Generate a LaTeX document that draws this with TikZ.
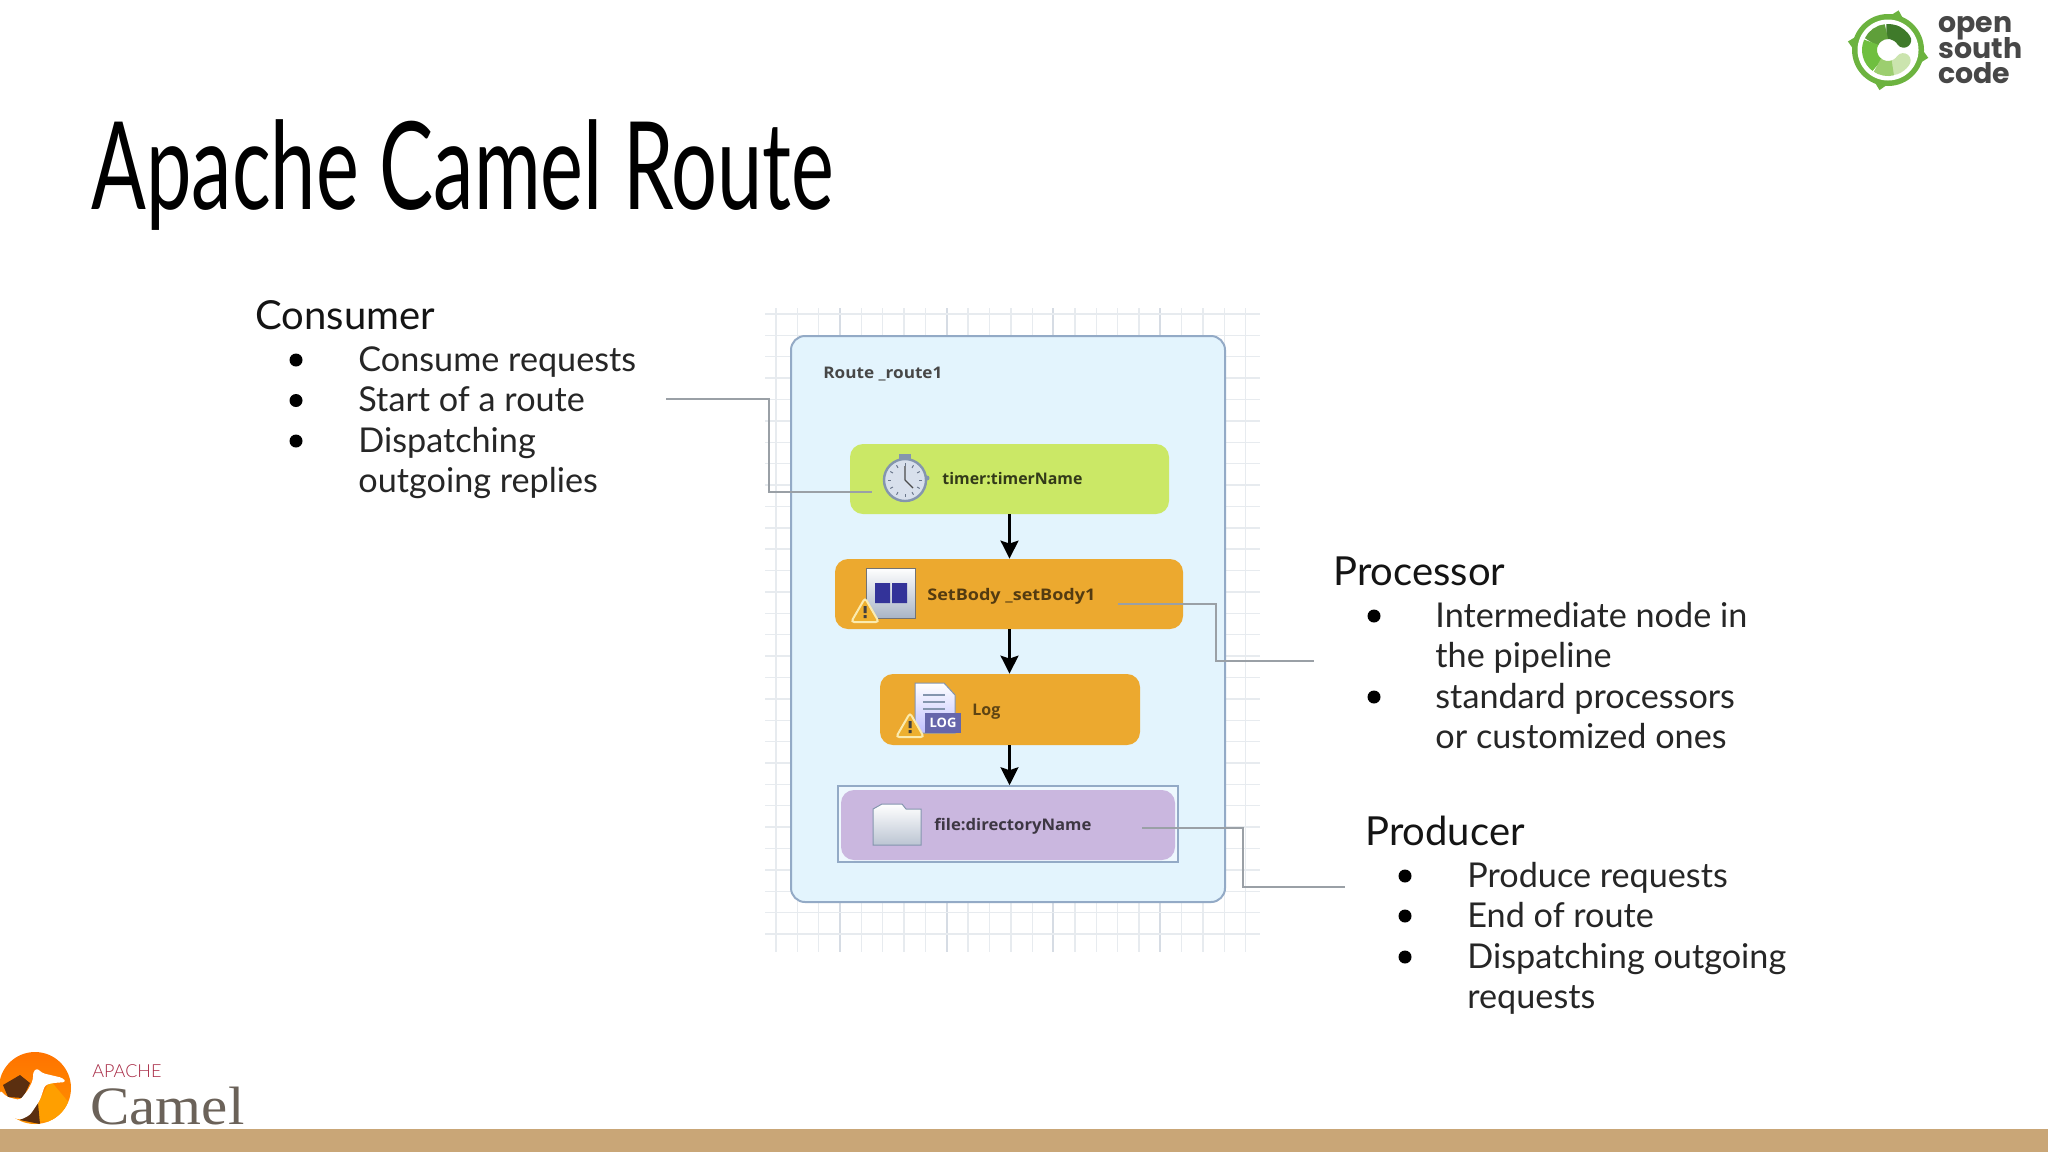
\documentclass[tikz,border=0pt]{standalone}
\usepackage{fontspec}
\usepackage{graphicx}
\setmainfont{Lato}
\newfontfamily\lbl{Open Sans}
\newfontfamily\logofont{Poppins}
\newfontfamily\camelfont{Liberation Serif}
\newfontfamily\titlefont{Lato}
\newfontfamily\apachefont{Lato Light}
\usetikzlibrary{arrows.meta,shapes.geometric}
\definecolor{barc}{HTML}{C9A677}
\definecolor{routefill}{HTML}{E3F4FD}
\definecolor{routeline}{HTML}{93AAC6}
\definecolor{timerc}{HTML}{CBE866}
\definecolor{orangec}{HTML}{ECA92F}
\definecolor{filec}{HTML}{CAB7DF}
\definecolor{leadc}{HTML}{9AA0A6}
\definecolor{gridc}{HTML}{E7EBEF}
\definecolor{gridm}{HTML}{D6DCE4}
\definecolor{iconline}{HTML}{8495AE}
\definecolor{clockface}{HTML}{D8E0EC}
\definecolor{wfill}{HTML}{EDB02F}
\definecolor{wline}{HTML}{FBEBAE}
\definecolor{ringg}{HTML}{6CB33F}
\definecolor{segdark}{HTML}{3F7A2A}
\definecolor{segmid}{HTML}{5F9F3A}
\definecolor{segbright}{HTML}{6FBF3F}
\definecolor{seglight}{HTML}{9CCE6F}
\definecolor{segpale}{HTML}{CBE4AE}
\definecolor{camelgrey}{HTML}{6B6259}
\definecolor{apachered}{HTML}{A82A45}
\definecolor{camelbrown}{HTML}{5B2F10}
\tikzset{
  x=0.5pt,y=-0.5pt,
  heading/.style={anchor=base west,inner sep=0pt,font=\fontsize{20}{20}\selectfont,text=black!92},
  item/.style={anchor=base west,inner sep=0pt,font=\fontsize{17.1}{20}\selectfont,text=black!85},
  dot/.style={circle,fill=black,inner sep=0pt,minimum size=6.5pt},
  stepbox/.style={rounded corners=6.5pt,inner sep=0pt},
  lbltext/.style={anchor=base west,inner sep=0pt,font=\lbl\bfseries\fontsize{8}{10}\selectfont},
  flow/.style={draw=black,line width=1.1pt,-{Stealth[length=9pt,width=9pt,inset=1.5pt]}},
  lead/.style={draw=leadc,line width=0.65pt},
  warnmark/.style={regular polygon,regular polygon sides=3,fill=wfill,draw=wline,line width=1pt,rounded corners=1.5pt,minimum size=16pt,inner sep=0pt},
}
\begin{document}
\begin{tikzpicture}
\useasboundingbox (0,0) rectangle (2048,1152);
\fill[white] (0,0) rectangle (2048,1152);
% footer
\fill[barc] (0,1129) rectangle (2048,1152);
% title
\node[anchor=base west,inner sep=0pt] (title) at (91,209) {\resizebox{371.5pt}{\height}{\titlefont\fontsize{61}{62}\selectfont Apache Camel Route}};
% grid
\foreach \i in {0,...,22}{
  \pgfmathsetmacro\xx{776+21.35*\i}
  \draw[gridc,line width=0.7pt] (\xx,308) -- (\xx,952);
}
\foreach \xx in {840,947,1053,1160}{
  \draw[gridm,line width=0.8pt] (\xx,308) -- (\xx,952);
}
\foreach \i in {0,...,29}{
  \pgfmathsetmacro\yy{314+21.38*\i}
  \draw[gridc,line width=0.7pt] (765,\yy) -- (1260,\yy);
}
% route container
\node[fill=routefill,draw=routeline,line width=1pt,rounded corners=7pt,minimum width=217pt,minimum height=283pt,inner sep=0pt] (route) at (1008,619) {};
\node[lbltext,text=black!72] (routelabel) at (823,378) {\resizebox{59.5pt}{\height}{Route \_route1}};
% steps
\node[stepbox,fill=timerc,minimum width=159.5pt,minimum height=35pt] (timer) at (1009.5,479) {};
\node[stepbox,fill=orangec,minimum width=174pt,minimum height=35pt] (setbody) at (1009,594) {};
\node[stepbox,fill=orangec,minimum width=130pt,minimum height=35.5pt] (log) at (1010,709.5) {};
\node[draw=routeline,line width=0.8pt,fill=routefill!60!white,minimum width=170pt,minimum height=38pt,inner sep=0pt] (fileframe) at (1008,824) {};
\node[stepbox,fill=filec,minimum width=167pt,minimum height=35pt] (file) at (1008,825) {};
% labels
\node[lbltext,text=timerc!25!black] (timertext) at (942,484) {\resizebox{70pt}{\height}{timer:timerName}};
\node[lbltext,text=orangec!35!black] (setbodytext) at (927,600) {\resizebox{84pt}{\height}{SetBody \_setBody1}};
\node[lbltext,text=orangec!40!black] (logtext) at (972,715) {Log};
\node[lbltext,text=filec!30!black] (filetext) at (934,830) {\resizebox{78.5pt}{\height}{file:directoryName}};
% flow arrows
\draw[flow] (timer.south) -- (timer.south |- setbody.north);
\draw[flow] (timer.south |- setbody.south) -- (timer.south |- log.north);
\draw[flow] (timer.south |- log.south) -- (timer.south |- fileframe.north);
% stopwatch
\fill[iconline] (899,454) rectangle (911,460);
\fill[iconline] (927,478) circle (2.5);
\draw[iconline,fill=clockface,line width=1.2pt] (905,480) circle (21);
\foreach \a in {0,30,...,330}{
  \draw[iconline!80!black,line width=0.5pt] (905,480) ++(\a:17) -- ++(\a:-3);
}
\draw[black!70,line width=0.6pt] (905,480) -- (905,466) (905,480) -- (913,488);
% setbody icon
\shade[top color=white,bottom color=iconline!70!white,draw=black!55,line width=0.5pt] (866,568) rectangle (915,618);
\fill[blue!50!black!80] (875,583) rectangle (890,603) (892,583) rectangle (907,603);
\node[warnmark] (warnone) at (865,614) {};
\fill[black!75] (863.5,606) rectangle (866.5,613) (863.5,615) rectangle (866.5,618);
% log icon
\shade[top color=white,bottom color=blue!25,draw=iconline,line width=0.5pt] (915,683) -- (944,683) -- (955,695) -- (955,733) -- (915,733) -- cycle;
\foreach \yy in {695,702,709}{ \draw[iconline,line width=0.6pt] (923,\yy) -- (945,\yy); }
\fill[blue!45!black!60] (924.5,713) rectangle (961,733);
\node[inner sep=0pt,text=white,font=\lbl\bfseries\fontsize{6.5}{7}\selectfont] (logtag) at (943,723) {LOG};
\node[warnmark] (warntwo) at (910,729) {};
\fill[black!75] (908.5,721) rectangle (911.5,728) (908.5,730) rectangle (911.5,733);
% folder
\shade[top color=white,bottom color=iconline!55,draw=iconline,line width=0.5pt] (873,845) -- (873,809) -- (882,804) -- (902,804) -- (906,809) -- (921,809) -- (921,845) -- cycle;
% leads
\coordinate (consumerout) at (666,399);
\coordinate (consumerbend) at (769,492);
\coordinate (consumerpin) at (872,492);
\draw[lead] (consumerout) -| (consumerbend) -- (consumerpin);
\coordinate (processorpin) at (1118,604);
\coordinate (processorbend) at (1216,661);
\coordinate (processorout) at (1314,661);
\draw[lead] (processorpin) -| (processorbend) -- (processorout);
\coordinate (producerpin) at (1142,828);
\coordinate (producerbend) at (1243,887);
\coordinate (producerout) at (1345,887);
\draw[lead] (producerpin) -| (producerbend) -- (producerout);
% consumer text
\node[heading] (hc) at (255,329) {Consumer};
\node[item] (c1) at (358,371) {Consume requests};
\node[item] (c2) at (358,411.5) {Start of a route};
\node[item] (c3) at (358,452) {Dispatching};
\node[item] (c4) at (358,492) {outgoing replies};
\node[dot] (cd1) at (296,360) {};
\node[dot] (cd2) at (296,400.5) {};
\node[dot] (cd3) at (296,441) {};
% processor text
\node[heading] (hp) at (1333,585) {Processor};
\node[item] (p1) at (1435,627) {Intermediate node in};
\node[item] (p2) at (1435,667) {the pipeline};
\node[item] (p3) at (1435,708) {standard processors};
\node[item] (p4) at (1435,748) {or customized ones};
\node[dot] (pd1) at (1374,616) {};
\node[dot] (pd2) at (1374,697) {};
% producer text
\node[heading] (hr) at (1365,845) {Producer};
\node[item] (r1) at (1467,887) {Produce requests};
\node[item] (r2) at (1467,927) {End of route};
\node[item] (r3) at (1467,968) {Dispatching outgoing};
\node[item] (r4) at (1467,1008) {requests};
\node[dot] (rd1) at (1405,876) {};
\node[dot] (rd2) at (1405,916) {};
\node[dot] (rd3) at (1405,957) {};
% open south code logo
\begin{scope}[shift={(1888,50)},yscale=-1]
  \fill[ringg] (75:41) -- (60:33) -- (90:33) -- cycle;
  \fill[ringg] (-11:41) -- (-26:33) -- (4:33) -- cycle;
  \fill[ringg] (258:41) -- (243:33) -- (273:33) -- cycle;
  \fill[ringg] (168:41) -- (153:33) -- (183:33) -- cycle;
  \fill[ringg] (0,0) circle (36);
  \fill[white] (0,0) circle (30.5);
  \draw[line width=7.5pt,color=segdark,line cap=round] (32:18.5) arc[start angle=32,end angle=70,radius=18.5];
  \draw[line width=7.5pt,color=segdark] (60:18.5) arc[start angle=60,end angle=95,radius=18.5];
  \draw[line width=7.5pt,color=segmid] (95:18.5) arc[start angle=95,end angle=155,radius=18.5];
  \draw[line width=7.5pt,color=segbright] (155:18.5) arc[start angle=155,end angle=235,radius=18.5];
  \draw[line width=7.5pt,color=segpale,line cap=round] (325:18.5) arc[start angle=325,end angle=290,radius=18.5];
  \draw[line width=7.5pt,color=seglight] (235:18.5) arc[start angle=235,end angle=285,radius=18.5];
\end{scope}
\node[anchor=base west,inner sep=0pt,text=black!72,font=\logofont\bfseries\fontsize{14.2}{14}\selectfont] (lo1) at (1938,32) {open};
\node[anchor=base west,inner sep=0pt,text=black!72,font=\logofont\bfseries\fontsize{14.2}{14}\selectfont] (lo2) at (1938,58) {south};
\node[anchor=base west,inner sep=0pt,text=black!72,font=\logofont\bfseries\fontsize{14.2}{14}\selectfont] (lo3) at (1938,83) {code};
% camel logo
\begin{scope}
  \clip (35,1088) circle (36);
  \shade[top color=orange!90!red,bottom color=orange!85!yellow] (-1,1052) rectangle (71,1124);
  \fill[orange!75!yellow] (30,1120) -- (50,1080) -- (75,1110) -- (75,1124) -- cycle;
  \fill[camelbrown] (3,1085) -- (20,1075) -- (30,1083) -- (23,1098) -- (8,1097) -- cycle;
  \fill[camelbrown] (20,1120) -- (38,1103) -- (40,1124) -- cycle;
\end{scope}
\fill[white,rounded corners=1.5pt] (0,1090) -- (7,1097) -- (20,1100) -- (28,1090) -- (33,1080) -- (33,1072) -- (37,1068) -- (42,1073) -- (63,1078) -- (66,1082) -- (53,1083) -- (45,1085) -- (40,1100) -- (30,1115) -- (20,1120) -- (7,1115) -- (0,1103) -- cycle;
\node[anchor=base west,inner sep=0pt,text=apachered,font=\apachefont\fontsize{9}{10}\selectfont] (apache) at (92,1077) {APACHE};
\node[anchor=base west,inner sep=0pt,text=camelgrey,font=\camelfont\fontsize{27}{28}\selectfont] (camel) at (90,1124) {\resizebox{77pt}{\height}{Camel}};
\end{tikzpicture}
\end{document}
